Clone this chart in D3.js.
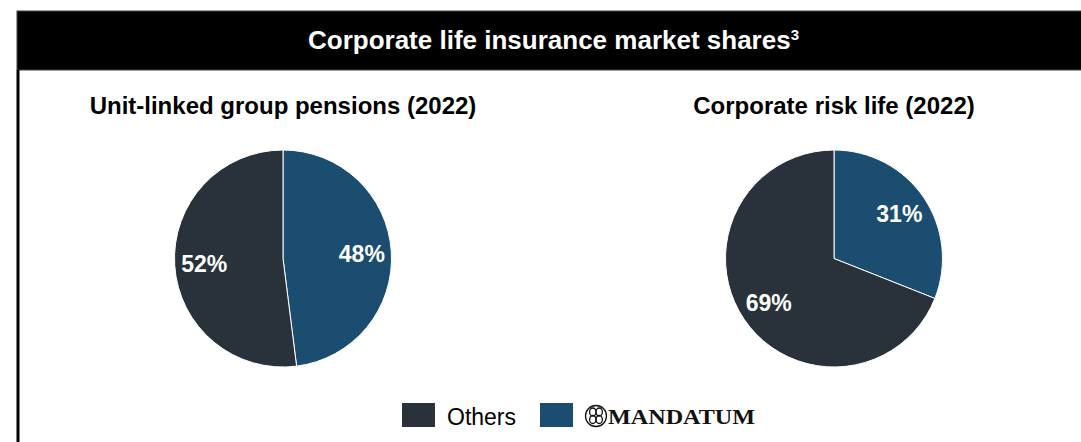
<!DOCTYPE html>
<html>
<head>
<meta charset="utf-8">
<script src="https://cdn.jsdelivr.net/npm/d3@7"></script>
<style>
  body { margin: 0; background: #fff; }
  svg { display: block; font-family: "Liberation Sans", Arial, sans-serif; }
</style>
</head>
<body>
<div id="chart"></div>
<script>
// data
const categories = ["Mandatum", "Others"];
const chartTitles = ["Unit-linked group pensions (2022)", "Corporate risk life (2022)"];
const pensionShares = [48, 52];
const riskLifeShares = [31, 69];
const legendLabels = ["Others", "MANDATUM"];

const width = 1081, height = 442;
const color = d3.scaleOrdinal()
    .domain(categories)
    .range(["#1b4d70", "#29313a"]);

const svg = d3.select("#chart").append("svg")
    .attr("width", width)
    .attr("height", height);

// header bar
svg.append("rect")
    .attr("x", 17).attr("y", 11)
    .attr("width", width).attr("height", 59)
    .attr("fill", "#000")
    .attr("stroke", "#444").attr("stroke-width", 1);

const title = svg.append("text")
    .attr("x", 308).attr("y", 49)
    .attr("fill", "#fff")
    .attr("font-weight", "bold")
    .attr("font-size", 26)
    .text("Corporate life insurance market shares");
title.append("tspan")
    .attr("font-size", 15)
    .attr("dy", -9)
    .text("3");

// left frame line
svg.append("line")
    .attr("x1", 18).attr("x2", 18)
    .attr("y1", 70).attr("y2", height)
    .attr("stroke", "#000").attr("stroke-width", 3);

const pie = d3.pie().sort(null).value(d => d);
const radius = 108.5;
const arc = d3.arc().innerRadius(0).outerRadius(radius);
const labelArc = d3.arc().innerRadius(79).outerRadius(79);

const panels = [
    { cx: 283, title: chartTitles[0], values: pensionShares },
    { cx: 834, title: chartTitles[1], values: riskLifeShares }
];

panels.forEach(p => {
    svg.append("text")
        .attr("x", p.cx).attr("y", 114)
        .attr("text-anchor", "middle")
        .attr("font-weight", "bold")
        .attr("font-size", 24)
        .attr("fill", "#000")
        .text(p.title);

    const g = svg.append("g")
        .attr("transform", `translate(${p.cx},258.5)`);

    const arcs = pie(p.values);
    g.selectAll("path")
        .data(arcs)
        .join("path")
        .attr("d", arc)
        .attr("fill", (d, i) => color(categories[i]))
        .attr("stroke", "#fff")
        .attr("stroke-width", 1);

    g.selectAll("text")
        .data(arcs)
        .join("text")
        .attr("transform", d => `translate(${labelArc.centroid(d)})`)
        .attr("text-anchor", "middle")
        .attr("dy", "0.35em")
        .attr("fill", "#fff")
        .attr("font-weight", "bold")
        .attr("font-size", 23)
        .text(d => d.data + "%");
});

// legend
const legend = svg.append("g");
legend.append("rect")
    .attr("x", 402).attr("y", 403)
    .attr("width", 33).attr("height", 24)
    .attr("fill", color("Others"));
legend.append("text")
    .attr("x", 447).attr("y", 425)
    .attr("font-size", 23)
    .attr("fill", "#000")
    .text(legendLabels[0]);
legend.append("rect")
    .attr("x", 540).attr("y", 403)
    .attr("width", 33).attr("height", 24)
    .attr("fill", color("Mandatum"));

// logo mark
const logo = legend.append("g")
    .attr("transform", "translate(596,416)")
    .attr("fill", "none")
    .attr("stroke", "#111")
    .attr("stroke-width", 1.3);
logo.append("circle").attr("r", 10.5);
[[-3.2, -4], [3.2, -4], [-3.2, 3.5], [3.2, 3.5]].forEach(([x, y]) => {
    logo.append("ellipse")
        .attr("cx", x).attr("cy", y)
        .attr("rx", 3.2).attr("ry", 4);
});

legend.append("text")
    .attr("x", 608).attr("y", 424)
    .attr("font-family", "'Liberation Serif', 'DejaVu Serif', serif")
    .attr("font-weight", "bold")
    .attr("font-size", 21)
    .attr("textLength", 147)
    .attr("lengthAdjust", "spacingAndGlyphs")
    .attr("fill", "#111")
    .text(legendLabels[1]);
</script>
</body>
</html>
